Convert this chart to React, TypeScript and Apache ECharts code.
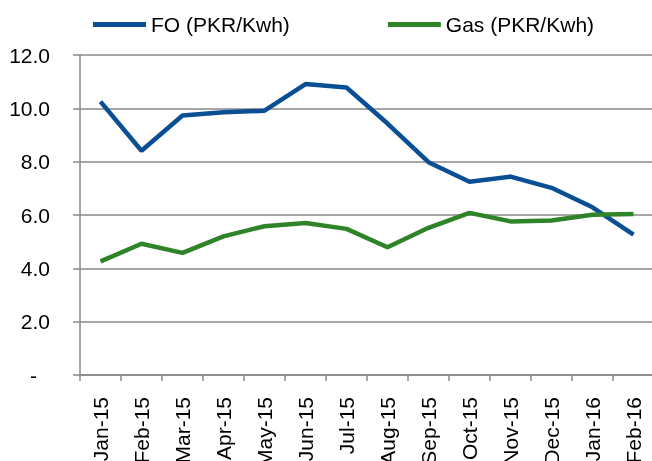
import React, { useEffect, useRef } from "react";
import * as echarts from "echarts";

const categories = ["Jan-15", "Feb-15", "Mar-15", "Apr-15", "May-15", "Jun-15", "Jul-15", "Aug-15", "Sep-15", "Oct-15", "Nov-15", "Dec-15", "Jan-16", "Feb-16"];
const foValues = [10.25, 8.41, 9.73, 9.85, 9.91, 10.91, 10.78, 9.43, 7.98, 7.25, 7.44, 7.02, 6.29, 5.26];
const gasValues = [4.26, 4.92, 4.58, 5.2, 5.58, 5.7, 5.48, 4.79, 5.52, 6.08, 5.76, 5.79, 6.01, 6.04];
const seriesNames = ["FO (PKR/Kwh)", "Gas (PKR/Kwh)"];

export default function App() {
  const ref = useRef<HTMLDivElement>(null);
  useEffect(() => {
    const chart = echarts.init(ref.current!, undefined, { renderer: "svg" });
    const font = "Liberation Sans, Arial, sans-serif";
    chart.setOption({
      animation: false,
      textStyle: { fontFamily: font },
      legend: {
        top: 14,
        left: 93,
        padding: 0,
        itemWidth: 53,
        itemHeight: 5,
        itemGap: 98,
        icon: "rect",
        textStyle: { fontSize: 21, color: "#000", fontFamily: font },
        data: seriesNames,
      },
      grid: { left: 80, right: -2, top: 55, bottom: 86, containLabel: false, outerBoundsMode: "none" },
      xAxis: {
        type: "category",
        data: categories,
        boundaryGap: true,
        axisLine: { lineStyle: { color: "#888", width: 1.5 } },
        axisTick: { show: true, interval: 0, length: 6, lineStyle: { color: "#888", width: 1.5 } },
        axisLabel: { rotate: 90, interval: 0, margin: 22, fontSize: 21, color: "#000", fontFamily: font },
        splitLine: { show: false },
      },
      yAxis: {
        type: "value",
        min: 0,
        max: 12,
        interval: 2,
        axisLine: { show: true, lineStyle: { color: "#888", width: 1.5 } },
        axisTick: { show: true, length: 7, lineStyle: { color: "#888", width: 1.5 } },
        axisLabel: {
          margin: 30,
          fontSize: 21,
          color: "#000",
          fontFamily: font,
          formatter: (v: number) => (v === 0 ? "{d|-}" : v.toFixed(1)),
          rich: { d: { fontSize: 21, color: "#000", padding: [0, 13, 0, 0], fontFamily: font } },
        },
        splitLine: { show: true, lineStyle: { color: "#888", width: 1.5 } },
      },
      series: [
        {
          name: seriesNames[0],
          type: "line",
          data: foValues,
          showSymbol: false,
          symbol: "none",
          lineStyle: { color: "#0A4E93", width: 4.5 },
          itemStyle: { color: "#0A4E93" },
        },
        {
          name: seriesNames[1],
          type: "line",
          data: gasValues,
          showSymbol: false,
          symbol: "none",
          lineStyle: { color: "#2F8429", width: 4.5 },
          itemStyle: { color: "#2F8429" },
        },
      ],
    });
    return () => chart.dispose();
  }, []);
  return <div ref={ref} style={{ position: "fixed", left: 0, top: 0, width: 652, height: 461 }} />;
}
